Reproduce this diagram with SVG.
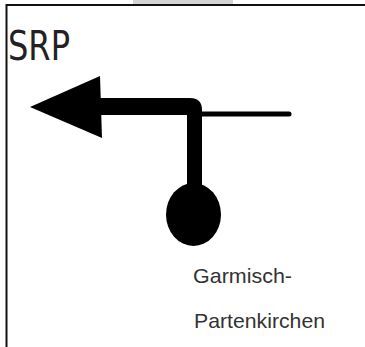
<svg xmlns="http://www.w3.org/2000/svg" width="365" height="347" viewBox="0 0 365 347">
  <style>
    .ink { fill: #000; }
    .frame { stroke: #111; stroke-width: 2; fill: none; }
    .lbl { font-family: "Liberation Sans", Arial, sans-serif; fill: #333; font-size: 21px; }
    .title { font-family: "DejaVu Sans", "Liberation Sans", sans-serif; fill: #222; font-size: 40px; }
  </style>
  <rect width="365" height="347" fill="#fff"/>
  <rect x="133" y="0" width="100" height="4" fill="#d4d4d4"/>
  <path class="frame" d="M6.5,347 V5 H365"/>
  <g id="title">
    <text class="title" x="8" y="60" textLength="62" lengthAdjust="spacingAndGlyphs">SRP</text>
  </g>
  <g id="connectors">
    <path class="ink" d="M100,98 H190 Q202,98 202,110 V196 H187 V115 H100 Z"/>
    <line x1="198" y1="114" x2="289" y2="114" stroke="#000" stroke-width="5" stroke-linecap="round"/>
  </g>
  <g id="arrowhead">
    <polygon class="ink" points="30,107 100,76 102,138"/>
  </g>
  <g id="station">
    <ellipse class="ink" cx="193.5" cy="214.5" rx="27.5" ry="31.5"/>
  </g>
  <g id="label">
    <text class="lbl" x="193" y="283" textLength="99" lengthAdjust="spacingAndGlyphs">Garmisch-</text>
    <text class="lbl" x="194" y="328" textLength="131" lengthAdjust="spacingAndGlyphs">Partenkirchen</text>
  </g>
</svg>
